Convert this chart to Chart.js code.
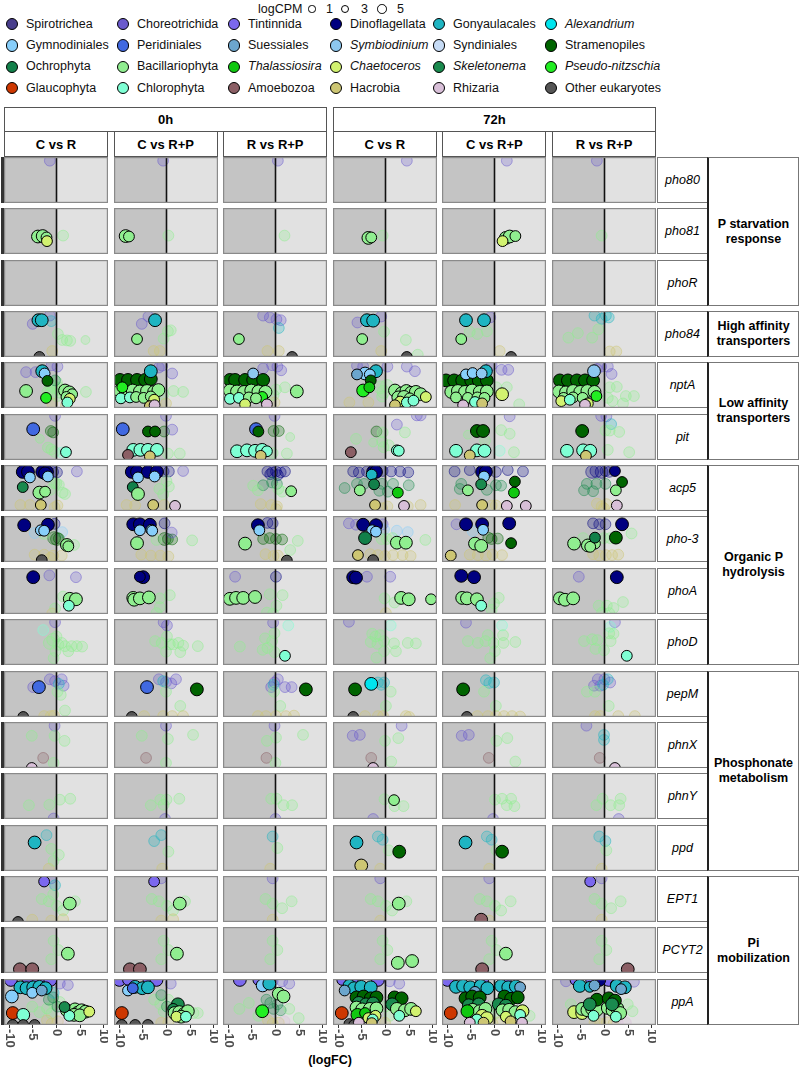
<!DOCTYPE html>
<html>
<head>
<meta charset="utf-8">
<script src="https://cdn.jsdelivr.net/npm/chart.js@4.4.1/dist/chart.umd.min.js"></script>
<style>
  body { margin: 0; background: #fff; font-family: "Liberation Sans", Arial, sans-serif; }
  #wrap { position: relative; width: 800px; height: 1070px; }
  .abs { position: absolute; }
  .leg { position: absolute; font-size: 12.5px; color: #111; white-space: nowrap; line-height: 14px; }
  .dot { position: absolute; border-radius: 50%; border: 1px solid #000; box-sizing: border-box; }
  .strip { position: absolute; background: #fff; border: 1px solid #555; box-sizing: border-box;
           font-weight: bold; font-size: 13px; display: flex; align-items: center; justify-content: center; }
  .gene { position: absolute; background: #fff; border: 1px solid #777; box-sizing: border-box;
          font-style: italic; font-size: 12.5px; display: flex; align-items: center; justify-content: center; }
  .group { position: absolute; background: #fff; border: 1px solid #777; border-left: 2px solid #222; box-sizing: border-box;
           font-weight: bold; font-size: 12.5px; text-align: center; display: flex; align-items: center; justify-content: center; line-height: 15px; }
  canvas { position: absolute; }
</style>
</head>
<body>
<div id="wrap"></div>
<script>
// taxa shown in the legend (row by row)
const taxa = ['Spirotrichea', 'Choreotrichida', 'Tintinnida', 'Dinoflagellata', 'Gonyaulacales', 'Alexandrium',
  'Gymnodiniales', 'Peridiniales', 'Suessiales', 'Symbiodinium', 'Syndiniales', 'Stramenopiles',
  'Ochrophyta', 'Bacillariophyta', 'Thalassiosira', 'Chaetoceros', 'Skeletonema', 'Pseudo-nitzschia',
  'Glaucophyta', 'Chlorophyta', 'Amoebozoa', 'Hacrobia', 'Rhizaria', 'Other eukaryotes'];
const taxonKeys = ['Spi', 'Cho', 'Tin', 'Din', 'Gon', 'Ale', 'Gym', 'Per', 'Sue', 'Sym', 'Syn', 'Str',
  'Och', 'Bac', 'Tha', 'Cha', 'Ske', 'Pse', 'Gla', 'Chl', 'Amo', 'Hac', 'Rhi', 'Oth'];
const taxonColors = ['#483D8B', '#6A5ACD', '#7B68EE', '#000080', '#1FB5C2', '#00E5EE',
  '#87CEFA', '#4169E1', '#6CA6CD', '#8DC8F0', '#C6DBF5', '#006400',
  '#12804A', '#90EE90', '#10C810', '#D2F270', '#1A8A4E', '#22EE22',
  '#CD3700', '#7FFFD4', '#8B5F65', '#CDC673', '#D8BFD8', '#555555'];
const italicTaxa = ['Alexandrium', 'Symbiodinium', 'Thalassiosira', 'Chaetoceros', 'Skeletonema', 'Pseudo-nitzschia'];

const timepoints = ['0h', '72h'];
const contrasts = ['C vs R', 'C vs R+P', 'R vs R+P'];
const genes = ['pho80', 'pho81', 'phoR', 'pho84', 'nptA', 'pit', 'acp5', 'pho-3', 'phoA', 'phoD',
  'pepM', 'phnX', 'phnY', 'ppd', 'EPT1', 'PCYT2', 'ppA'];
const groupLabels = ['P starvation<br>response', 'High affinity<br>transporters', 'Low affinity<br>transporters',
  'Organic P<br>hydrolysis', 'Phosphonate<br>metabolism', 'Pi<br>mobilization'];
const groupSizes = [3, 1, 2, 4, 4, 3];
const xTicks = [-10, -5, 0, 5, 10];
const cpmLevels = [1, 3, 5];

// points: [logFC, y position (0-10), taxon, logCPM, significant]
// each gene: 6 panels = 0h (C vs R, C vs R+P, R vs R+P), 72h (same)
const pho80Pts = [
  [[-1.3, 9.2, 'Cho', 3, 0]],
  [[-0.6, 9.2, 'Cho', 3, 0]],
  [[0.6, 9.2, 'Cho', 3, 0]],
  [[4.6, 9.2, 'Cho', 3, 0]],
  [[2.7, 9.2, 'Cho', 3, 0]],
  [[-1.5, 9.2, 'Cho', 3, 0]]
];
const pho81Pts = [
  [[-3.8, 3.8, 'Bac', 4, 1], [-2.8, 3.9, 'Bac', 4, 1], [-2.0, 3.6, 'Bac', 3, 1], [-1.9, 2.8, 'Cha', 3, 1], [1.5, 4, 'Bac', 3, 0]],
  [[-8.5, 3.9, 'Bac', 4, 1], [-7.8, 3.8, 'Bac', 3, 1], [0.5, 4, 'Bac', 3, 0]],
  [[2, 4, 'Bac', 3, 0]],
  [[-3.5, 3.5, 'Bac', 4, 1], [-2.9, 3.6, 'Bac', 3, 1], [-0.5, 4, 'Bac', 3, 0]],
  [[2.5, 3.5, 'Bac', 4, 1], [3.3, 3.8, 'Bac', 4, 1], [4.5, 3.9, 'Bac', 3, 1], [1.8, 2.8, 'Cha', 3, 1]],
  [[-0.5, 4, 'Bac', 3, 0]]
];
const phoRPts = [[], [], [], [], [], []];
const pho84Pts = [
  [[-3.7, 8, 'Gon', 4, 1], [-3.0, 8, 'Gon', 4, 1], [-3.5, 0, 'Oth', 3, 1], [-4.9, 7.2, 'Cho', 3, 0], [-1.3, 9, 'Cho', 3, 0],
   [0.4, 5, 'Bac', 3, 0], [1.3, 3.7, 'Bac', 3, 0], [2.3, 3.6, 'Bac', 3, 0], [3.0, 3.5, 'Bac', 3, 0], [6.2, 3.7, 'Bac', 2, 0],
   [-0.8, 1.3, 'Hac', 3, 0], [-1, 7.8, 'Gon', 3, 0]],
  [[-2.3, 8, 'Gon', 4, 1], [-6.1, 3.9, 'Bac', 3, 1], [-5.1, 7.2, 'Cho', 3, 0], [-3.7, 8.8, 'Cho', 3, 0], [0.4, 5.6, 'Bac', 3, 0],
   [1, 5.8, 'Bac', 3, 0], [-0.5, 4, 'Bac', 3, 0], [-2.6, 1.3, 'Hac', 3, 0], [-1.3, 1.3, 'Hac', 3, 0]],
  [[-7.6, 3.9, 'Bac', 3, 1], [3.6, 0, 'Oth', 3, 1], [-2.5, 9, 'Cho', 3, 0], [-1.1, 8.6, 'Cho', 3, 0], [0.3, 8.2, 'Cho', 3, 0],
   [1.2, 8, 'Cho', 3, 0], [0.8, 6.3, 'Gon', 3, 0], [-1.6, 1.3, 'Hac', 3, 0], [0.8, 1.3, 'Hac', 3, 0]],
  [[-3.8, 8, 'Gon', 4, 1], [-2.5, 7.9, 'Gon', 4, 1], [-4.8, 3.9, 'Bac', 3, 1], [4.6, 0, 'Oth', 3, 1], [-5.8, 7.5, 'Cho', 3, 0],
   [-0.8, 8.8, 'Cho', 3, 0], [-0.2, 5.5, 'Bac', 3, 0], [4.4, 3.7, 'Bac', 3, 0], [-0.8, 1.3, 'Hac', 3, 0], [6.9, 0.5, 'Bac', 3, 0]],
  [[-5.9, 8, 'Gon', 4, 1], [-2.1, 8, 'Gon', 4, 1], [-6.9, 3.9, 'Bac', 3, 1], [3.6, 0, 'Oth', 3, 1], [-5.1, 5.5, 'Bac', 3, 0],
   [-3.5, 5, 'Bac', 3, 0], [-1.5, 5.6, 'Bac', 3, 0], [-0.8, 8.6, 'Cho', 3, 0], [1.2, 1.3, 'Hac', 3, 0]],
  [[-2.0, 9, 'Gon', 3, 0], [0.4, 9, 'Gon', 3, 0], [1, 8.6, 'Gon', 3, 0], [-0.5, 8.3, 'Gon', 3, 0], [-1.2, 6, 'Bac', 3, 0],
   [-7.5, 4.2, 'Bac', 3, 0], [-5.5, 5.2, 'Bac', 3, 0], [-2.5, 4.2, 'Bac', 3, 0], [2.6, 1.2, 'Hac', 3, 0], [1.2, 1.2, 'Hac', 3, 0]]
];
const nptAPts = [
  [[-2.9, 8, 'Gon', 4, 1], [-2.4, 7.5, 'Gym', 3, 1], [-1.8, 5.9, 'Str', 3, 1], [-6.3, 3.7, 'Bac', 4, 1], [-2.1, 2.2, 'Pse', 3, 1],
   [1.9, 3.8, 'Bac', 4, 1], [2.8, 3.4, 'Bac', 4, 1], [3.4, 3, 'Bac', 3, 1], [2.2, 2.4, 'Bac', 3, 1], [2.9, 2.0, 'Cha', 3, 1], [2.4, 1.2, 'Chl', 3, 1],
   [-0.9, 9.3, 'Cho', 3, 0], [0.3, 9, 'Cho', 3, 0], [-4.3, 7.8, 'Cho', 3, 0], [-6.3, 7.8, 'Cho', 3, 0], [-1.2, 5, 'Bac', 4, 0],
   [-0.5, 4.6, 'Bac', 4, 0], [0, 5.5, 'Bac', 4, 0], [0.6, 4.2, 'Bac', 4, 0], [-1, 3.2, 'Bac', 4, 0], [0.2, 2.8, 'Bac', 4, 0],
   [1, 3.5, 'Bac', 4, 0], [-1.8, 3.5, 'Bac', 3, 0], [6.3, 3.5, 'Bac', 3, 0], [2.1, 0.6, 'Hac', 3, 0], [-0.8, 1, 'Hac', 3, 0], [-0.2, 6, 'Ske', 3, 0]],
  [[-9.7, 6.1, 'Str', 4, 1], [-8, 6.1, 'Str', 4, 1], [-6.1, 6.1, 'Str', 4, 1], [-4.4, 6.1, 'Str', 4, 1], [-3.2, 6.3, 'Str', 4, 1],
   [-3.2, 8, 'Gon', 4, 1], [-9.7, 3.7, 'Bac', 4, 1], [-8.4, 3.5, 'Bac', 4, 1], [-7, 3.8, 'Bac', 4, 1], [-5.5, 3.6, 'Bac', 4, 1],
   [-4, 3.7, 'Bac', 4, 1], [-2.5, 3.5, 'Bac', 4, 1], [-1.6, 3.9, 'Bac', 4, 1], [-9.2, 4.5, 'Pse', 3, 1], [-9.5, 2.1, 'Chl', 3, 1],
   [-7.6, 2.3, 'Chl', 3, 1], [-6.3, 2.4, 'Bac', 3, 1], [-4.7, 2.2, 'Bac', 3, 1], [-3.2, 2.5, 'Bac', 3, 1], [-2.5, 1.8, 'Cha', 3, 1],
   [-3.4, 0.4, 'Hac', 3, 1], [-2.4, 0.6, 'Rhi', 3, 1],
   [-0.8, 9.2, 'Cho', 3, 0], [1.3, 7.5, 'Cho', 3, 0], [-1.5, 8.8, 'Cho', 3, 0], [1.6, 3.7, 'Bac', 3, 0], [3.6, 3.5, 'Bac', 3, 0],
   [-0.5, 3, 'Bac', 3, 0], [0, 1, 'Hac', 3, 0]],
  [[-9.5, 6.1, 'Str', 4, 1], [-8.4, 6.1, 'Str', 4, 1], [-6.3, 6.1, 'Str', 4, 1], [-4.6, 6.1, 'Str', 4, 1], [-2.5, 6.1, 'Str', 4, 1],
   [-4.6, 7.5, 'Sym', 3, 1], [-9.5, 3.8, 'Bac', 4, 1], [-8, 3.6, 'Bac', 4, 1], [-6.5, 3.5, 'Bac', 4, 1], [-5, 3.8, 'Bac', 4, 1],
   [-3.5, 3.6, 'Bac', 4, 1], [-2, 3.5, 'Bac', 4, 1], [-9.5, 2, 'Chl', 3, 1], [-7.6, 2.2, 'Chl', 3, 1], [-2.7, 2.4, 'Pse', 3, 1],
   [-5.5, 2.3, 'Bac', 3, 1], [-4, 2.1, 'Bac', 3, 1], [-6.3, 0.8, 'Cha', 3, 1], [-1.7, 0.8, 'Rhi', 3, 1], [4.6, 3.6, 'Bac', 4, 1],
   [-0.6, 9.3, 'Cho', 3, 0], [0.5, 9, 'Cho', 3, 0], [-2.5, 8.6, 'Cho', 3, 0], [1.3, 8.2, 'Cho', 3, 0], [0.2, 4, 'Bac', 3, 0],
   [-0.3, 2.8, 'Bac', 3, 0], [2.1, 4.5, 'Bac', 3, 0], [-0.1, 1.2, 'Hac', 3, 0]],
  [[-1.9, 8, 'Gon', 4, 1], [-4.2, 7.5, 'Gym', 4, 1], [-3.2, 7.3, 'Gym', 3, 1], [-5.9, 7.3, 'Sue', 3, 1], [-3.0, 6, 'Str', 3, 1],
   [-4.6, 3.8, 'Pse', 4, 1], [-3.3, 4.5, 'Tha', 3, 1], [2.1, 3.8, 'Bac', 4, 1], [3.5, 3.2, 'Bac', 4, 1], [4.5, 3.7, 'Bac', 4, 1],
   [5.5, 3.3, 'Bac', 4, 1], [6.5, 3.5, 'Bac', 4, 1], [7.5, 3, 'Bac', 4, 1], [2.8, 2.3, 'Bac', 4, 1], [4, 2.4, 'Bac', 4, 1],
   [5.2, 2.1, 'Bac', 3, 1], [8.6, 2.4, 'Cha', 3, 1], [3.2, 1.4, 'Cha', 3, 1], [4.6, 1.2, 'Chl', 3, 1], [6, 1.6, 'Chl', 3, 1], [2.1, 0.6, 'Hac', 3, 1],
   [-5.9, 9.2, 'Cho', 3, 0], [-4.6, 9, 'Cho', 3, 0], [0.5, 9, 'Cho', 3, 0], [4.6, 9, 'Cho', 3, 0], [6.3, 8, 'Cho', 3, 0],
   [-1, 4.5, 'Bac', 4, 0], [-0.3, 3.5, 'Bac', 4, 0], [0.4, 4.8, 'Bac', 4, 0], [-0.6, 2.5, 'Bac', 3, 0], [-7.5, 1.2, 'Hac', 3, 0], [-3.5, 1.2, 'Hac', 3, 0]],
  [[-10.1, 6, 'Str', 4, 1], [-8.4, 6, 'Str', 4, 1], [-6.7, 6, 'Str', 4, 1], [-4.8, 6, 'Str', 4, 1], [-3.2, 6, 'Str', 4, 1], [-1.5, 6, 'Str', 4, 1],
   [-1.7, 8, 'Gon', 4, 1], [-5.9, 7.3, 'Gym', 3, 1], [-4.5, 7.6, 'Gym', 3, 1], [-2.6, 7.5, 'Sym', 3, 1], [-9, 3.5, 'Bac', 4, 1],
   [-7.6, 3.7, 'Bac', 4, 1], [-6.1, 3.5, 'Bac', 4, 1], [-4.6, 3.8, 'Bac', 4, 1], [-3, 3.5, 'Bac', 4, 1], [-1.5, 3.6, 'Bac', 4, 1],
   [-8, 2.3, 'Bac', 3, 1], [-5.5, 2.2, 'Bac', 3, 1], [-3.5, 2.3, 'Bac', 3, 1], [-2, 2.2, 'Bac', 3, 1], [1.7, 3, 'Cha', 4, 1],
   [-6.5, 0.6, 'Rhi', 3, 1], [-4, 1.3, 'Chl', 3, 1], [-2.5, 1, 'Hac', 3, 1],
   [-0.5, 9.3, 'Cho', 3, 0], [1.6, 8.3, 'Cho', 3, 0], [3, 8.3, 'Cho', 3, 0], [0.5, 4.5, 'Bac', 3, 0], [2.7, 4.5, 'Bac', 3, 0], [5.3, 0.8, 'Bac', 3, 0]],
  [[-9.3, 6, 'Str', 4, 1], [-7.6, 6, 'Str', 4, 1], [-5.7, 6, 'Str', 4, 1], [-4, 6, 'Str', 4, 1], [-2.3, 6, 'Str', 4, 1], [-2.1, 8, 'Sym', 4, 1],
   [-9.5, 3.6, 'Bac', 4, 1], [-8, 3.4, 'Bac', 4, 1], [-6.5, 3.7, 'Bac', 4, 1], [-5, 3.5, 'Bac', 4, 1], [-3.5, 3.7, 'Bac', 4, 1],
   [-2, 3.5, 'Bac', 4, 1], [-8.5, 2.2, 'Bac', 3, 1], [-6.5, 2.3, 'Bac', 3, 1], [-4.5, 2.2, 'Bac', 3, 1], [-9, 1.5, 'Cha', 3, 1],
   [-3.4, 1, 'Cha', 3, 1], [-4, 0.7, 'Rhi', 3, 1], [-1.6, 2.6, 'Pse', 3, 1], [-7.2, 1.8, 'Chl', 3, 1],
   [-0.6, 9, 'Cho', 3, 0], [0.8, 9, 'Cho', 3, 0], [-1.5, 8.5, 'Cho', 3, 0], [1.6, 7.4, 'Cho', 3, 0], [1.2, 4.5, 'Bac', 3, 0],
   [2.7, 4.6, 'Bac', 3, 0], [4.6, 2.6, 'Bac', 3, 0], [6.3, 2.6, 'Bac', 3, 0], [0.8, 2.2, 'Bac', 3, 0], [1.8, 1.5, 'Bac', 3, 0], [4, 1, 'Bac', 3, 0]]
];
const pitPts = [
  [[-4.8, 6.7, 'Per', 4, 1], [2.1, 1.7, 'Chl', 3, 1], [-0.2, 9.6, 'Cho', 3, 0], [-1.1, 6.3, 'Str', 3, 0], [-0.6, 6, 'Str', 3, 0],
   [-1.7, 2.7, 'Bac', 3, 0], [-1, 2.3, 'Bac', 3, 0], [-0.3, 1.8, 'Bac', 3, 0], [-3.4, 4.6, 'Bac', 2, 0], [1.2, 1.6, 'Chl', 3, 0]],
  [[-9.1, 6.7, 'Per', 4, 1], [-3.8, 6.2, 'Str', 3, 1], [-2.3, 6.2, 'Str', 3, 1], [-6.9, 2.2, 'Chl', 4, 1], [-5.4, 2.2, 'Chl', 4, 1],
   [-3.8, 2.2, 'Chl', 4, 1], [-1.9, 2.2, 'Chl', 4, 1], [-8, 1.1, 'Amo', 3, 1], [-3.4, 0.8, 'Hac', 3, 1],
   [0, 9.6, 'Cho', 3, 0], [-0.4, 6.2, 'Str', 3, 0], [1.3, 6.6, 'Cho', 3, 0], [2.9, 1.4, 'Bac', 3, 0], [0.4, 1.4, 'Bac', 3, 0]],
  [[-4, 6.7, 'Per', 4, 1], [-3.5, 6.2, 'Str', 3, 1], [-8, 1.9, 'Chl', 4, 1], [-5.9, 2.1, 'Chl', 4, 1], [-4.2, 2, 'Chl', 4, 1],
   [-2.7, 2.2, 'Chl', 4, 1], [-1.7, 1.9, 'Chl', 3, 1], [-3, 0.9, 'Hac', 3, 1],
   [-0.1, 9.6, 'Cho', 3, 0], [-0.3, 6.3, 'Str', 3, 0], [0.8, 6.3, 'Str', 3, 0], [3.2, 5, 'Bac', 2, 0], [2.5, 1.4, 'Bac', 3, 0], [-0.5, 1.5, 'Bac', 3, 0]],
  [[-7.2, 1.7, 'Amo', 3, 1], [2.5, 2.1, 'Chl', 3, 1], [2.9, 2.0, 'Chl', 3, 1],
   [6.7, 9.7, 'Cho', 3, 0], [7.5, 9.7, 'Cho', 3, 0], [-1.8, 6.2, 'Str', 3, 0], [2.5, 7.7, 'Cho', 3, 0], [-0.5, 6, 'Bac', 3, 0],
   [-0.6, 4, 'Bac', 3, 0], [-6.1, 4.6, 'Bac', 3, 0], [-2.5, 3.8, 'Bac', 2, 0], [-0.3, 2.8, 'Bac', 3, 0], [0.8, 3.2, 'Bac', 3, 0], [4.2, 6, 'Bac', 3, 0]],
  [[-3.6, 6.3, 'Str', 4, 1], [-2.3, 6.3, 'Str', 4, 1], [-8, 2, 'Chl', 4, 1], [-3.6, 2.1, 'Chl', 4, 1], [-2, 2, 'Chl', 4, 1], [-5.1, 1, 'Hac', 3, 1],
   [3.3, 9.5, 'Cho', 3, 0], [1.2, 2, 'Chl', 3, 0], [1.5, 6.5, 'Bac', 3, 0], [3.3, 5.7, 'Bac', 3, 0], [-1.9, 4.2, 'Bac', 3, 0],
   [-5.5, 5.5, 'Bac', 2, 0], [4.2, 1.7, 'Bac', 3, 0]],
  [[-4.6, 6.3, 'Str', 4, 1], [-7.8, 2, 'Chl', 4, 1], [-4.4, 2.1, 'Chl', 4, 1], [-2.9, 2, 'Chl', 4, 1], [-3.8, 0.9, 'Hac', 3, 1],
   [-0.6, 9.6, 'Cho', 3, 0], [0.5, 9.5, 'Cho', 3, 0], [1.5, 7.8, 'Gon', 3, 0], [0.3, 6.4, 'Bac', 3, 0], [1.2, 6.4, 'Bac', 3, 0],
   [3.2, 6.1, 'Bac', 3, 0], [0.8, 2.2, 'Bac', 3, 0], [5.3, 1.7, 'Bac', 3, 0]]
];
const acp5Pts = [
  [[-7, 8.5, 'Din', 4, 1], [-5.9, 8.5, 'Din', 4, 1], [-2.9, 8.5, 'Din', 4, 1], [-1.9, 8.5, 'Din', 4, 1], [-2.3, 8.2, 'Din', 4, 1],
   [-5.5, 7.3, 'Gym', 3, 1], [-1.7, 7.5, 'Gym', 3, 1], [-7, 5.2, 'Ske', 3, 1], [-3.5, 4, 'Bac', 4, 1], [-2.3, 4.2, 'Bac', 3, 1], [-3.2, 1.3, 'Hac', 3, 1],
   [-0.6, 8.5, 'Din', 3, 0], [0.2, 8.4, 'Din', 3, 0], [4.4, 8.6, 'Cho', 3, 0], [-0.3, 6, 'Bac', 3, 0], [0.1, 6, 'Bac', 3, 0],
   [0.6, 5.7, 'Bac', 3, 0], [1.4, 4, 'Bac', 3, 0], [1.9, 3.7, 'Bac', 3, 0], [-1.2, 4.6, 'Bac', 3, 0], [-7.5, 1.3, 'Hac', 3, 0],
   [-5.5, 1.3, 'Hac', 3, 0], [-0.3, 0.8, 'Hac', 3, 0], [0.3, 1.2, 'Hac', 3, 0], [-2.5, 9.2, 'Cho', 3, 0]],
  [[-7.2, 8.5, 'Din', 4, 1], [-6.1, 8.5, 'Din', 4, 1], [-3.8, 8.5, 'Din', 4, 1], [-1.9, 8.5, 'Din', 4, 1], [-5.9, 7.3, 'Gym', 3, 1],
   [-2.4, 7.5, 'Gym', 3, 1], [-7, 5.2, 'Och', 3, 1], [-5.9, 3.7, 'Bac', 4, 1], [-2.7, 1.3, 'Hac', 3, 1], [1.9, 1.1, 'Rhi', 3, 1],
   [3.6, 8.7, 'Cho', 3, 0], [-0.5, 8.6, 'Din', 3, 0], [0.6, 8.6, 'Din', 3, 0], [0.1, 6.5, 'Bac', 3, 0], [0.6, 5.3, 'Bac', 3, 0],
   [-1.4, 4.8, 'Bac', 3, 0], [-0.6, 3.6, 'Bac', 3, 0], [-8.3, 1.3, 'Hac', 3, 0], [-6.5, 1.2, 'Hac', 3, 0], [-0.4, 1.3, 'Hac', 3, 0]],
  [[3.4, 4.3, 'Bac', 3, 1],
   [-1.6, 8.6, 'Din', 3, 0], [-0.6, 8.4, 'Din', 3, 0], [0.2, 8.6, 'Din', 3, 0], [1.2, 8.4, 'Din', 3, 0], [2.1, 8.6, 'Din', 3, 0],
   [-1, 8, 'Din', 3, 0], [0.6, 7.8, 'Din', 3, 0], [-2.5, 5.6, 'Ske', 3, 0], [-0.6, 6.2, 'Ske', 3, 0], [0.4, 5.9, 'Ske', 3, 0],
   [-4.6, 5.5, 'Bac', 3, 0], [0.7, 4.8, 'Bac', 3, 0], [1.5, 4.2, 'Bac', 3, 0], [-3.6, 4.5, 'Bac', 3, 0], [-3, 1.5, 'Hac', 3, 0],
   [-0.8, 1.3, 'Hac', 3, 0], [0.4, 1, 'Hac', 3, 0], [0.2, 0.4, 'Hac', 3, 0]],
  [[-2.5, 8.5, 'Din', 4, 1], [-1.9, 8.5, 'Din', 4, 1], [-2.8, 7.9, 'Gon', 3, 1], [-2.3, 5.8, 'Och', 3, 1], [-5.3, 4.5, 'Bac', 3, 1],
   [2.7, 4, 'Tha', 3, 1], [-2.1, 1.3, 'Hac', 3, 1], [4, 1.1, 'Rhi', 3, 1],
   [-6.7, 8.6, 'Din', 3, 0], [-5.5, 8.4, 'Din', 3, 0], [-3.8, 8.6, 'Din', 3, 0], [-0.5, 8.7, 'Din', 3, 0], [1.3, 8.6, 'Din', 3, 0],
   [3.2, 8.6, 'Din', 3, 0], [4.9, 8.4, 'Din', 3, 0], [-5.9, 5.9, 'Ske', 3, 0], [-4.4, 5.9, 'Ske', 3, 0], [-0.6, 5.9, 'Ske', 3, 0],
   [1.7, 5.9, 'Ske', 3, 0], [5, 5.6, 'Ske', 3, 0], [-8.5, 5, 'Ske', 3, 0], [-1.2, 4.4, 'Ske', 3, 0], [0.6, 4.2, 'Ske', 3, 0],
   [7.5, 1.3, 'Hac', 3, 0], [4.8, 1, 'Hac', 3, 0], [0.5, 1, 'Hac', 3, 0], [-0.6, 0.6, 'Hac', 3, 0]],
  [[-2.5, 8.5, 'Din', 4, 1], [-1.7, 8.5, 'Din', 4, 1], [-2.1, 7.5, 'Gym', 3, 1], [-2.7, 5.8, 'Ske', 3, 1], [4.4, 6.4, 'Str', 3, 1],
   [-5.5, 4.5, 'Bac', 3, 1], [4.2, 4, 'Tha', 3, 1], [-2.5, 1.3, 'Hac', 3, 1], [2.7, 1.1, 'Rhi', 3, 1], [6.7, 1.1, 'Rhi', 3, 1],
   [-8.3, 8.6, 'Din', 3, 0], [-5.1, 8.9, 'Din', 3, 0], [0.4, 8.5, 'Din', 3, 0], [2.9, 8.9, 'Din', 3, 0], [6.1, 8.6, 'Din', 3, 0],
   [-6.9, 5.9, 'Ske', 3, 0], [0.4, 5.6, 'Ske', 3, 0], [1.5, 5.5, 'Ske', 3, 0], [-7.2, 4.8, 'Ske', 3, 0], [-1.5, 4.6, 'Ske', 3, 0],
   [-8.2, 1.3, 'Hac', 3, 0], [0.4, 1.2, 'Hac', 3, 0], [-0.5, 1.2, 'Hac', 3, 0]],
  [[2.3, 8.7, 'Din', 3, 1], [3.8, 6.3, 'Str', 3, 1], [2.5, 4.5, 'Bac', 3, 1], [2.7, 1.2, 'Rhi', 3, 1],
   [-2.5, 8.5, 'Din', 4, 0], [-1.6, 8.7, 'Din', 4, 0], [-0.5, 8.5, 'Din', 4, 0], [0.3, 8.7, 'Din', 3, 0], [1.1, 8.5, 'Din', 3, 0],
   [-3.6, 5.9, 'Ske', 3, 0], [-1.6, 5.9, 'Ske', 3, 0], [0.3, 5.9, 'Ske', 3, 0], [-4.2, 4.5, 'Ske', 3, 0], [-2.3, 4.3, 'Ske', 3, 0],
   [-1.5, 1.6, 'Hac', 3, 0], [-0.5, 1, 'Hac', 3, 0], [0.5, 1.5, 'Hac', 3, 0], [0, 0.6, 'Hac', 3, 0]]
];
const pho3Pts = [
  [[-6.7, 8, 'Din', 4, 1], [-1.7, 8.1, 'Din', 4, 1], [-3.2, 6.9, 'Gym', 3, 1], [-2.5, 6.8, 'Gym', 3, 1], [2.3, 3.7, 'Bac', 4, 1],
   [2.6, 3.4, 'Bac', 3, 1], [-3, 0.4, 'Oth', 3, 1],
   [-0.3, 8.3, 'Din', 3, 0], [-4.5, 6.3, 'Gym', 3, 0], [1.3, 6.5, 'Gym', 3, 0], [-0.4, 5.2, 'Str', 4, 0], [0.2, 5, 'Str', 4, 0],
   [0.6, 5.1, 'Str', 3, 0], [3.8, 3.7, 'Bac', 3, 0], [-2.5, 6.1, 'Bac', 3, 0], [-4.5, 1.6, 'Hac', 3, 0], [-2.5, 1.6, 'Hac', 3, 0],
   [-0.6, 1.4, 'Hac', 3, 0], [1.2, 1.4, 'Hac', 3, 0], [-1.2, 0.9, 'Hac', 3, 0]],
  [[-6.9, 8.2, 'Din', 4, 1], [-5.5, 8.2, 'Din', 4, 1], [-3.4, 8.1, 'Din', 4, 1], [-5.5, 6.9, 'Gym', 3, 1], [-3.1, 7, 'Gym', 3, 1],
   [-2.9, 6.8, 'Gym', 3, 1], [-6.1, 4.1, 'Bac', 4, 1],
   [-0.3, 8.4, 'Din', 3, 0], [-0.3, 5, 'Str', 4, 0], [0.4, 5, 'Str', 3, 0], [1.3, 4.9, 'Str', 3, 0], [5.5, 4.7, 'Bac', 3, 0],
   [-2, 4.8, 'Bac', 3, 0], [-5.2, 1.6, 'Hac', 3, 0], [-3.2, 1.4, 'Hac', 3, 0], [-1.2, 1.4, 'Hac', 3, 0], [0.5, 1.2, 'Hac', 3, 0], [1.2, 6.4, 'Cho', 3, 0]],
  [[-3.6, 8, 'Din', 4, 1], [-3.3, 6.9, 'Gym', 3, 1], [-6.3, 4, 'Bac', 4, 1], [2.5, 0.3, 'Oth', 3, 1],
   [-0.5, 8.4, 'Din', 3, 0], [-1.6, 8.5, 'Din', 3, 0], [-2.5, 5, 'Str', 3, 0], [-1.1, 5.2, 'Str', 3, 0], [0.2, 5, 'Str', 3, 0],
   [1.5, 4.9, 'Str', 3, 0], [4.8, 4.6, 'Bac', 3, 0], [3.2, 2.6, 'Bac', 3, 0], [-2, 1.7, 'Hac', 3, 0], [-0.3, 1.3, 'Hac', 3, 0], [0.6, 1.4, 'Hac', 3, 0]],
  [[-4.6, 8.1, 'Din', 4, 1], [-1.9, 8, 'Din', 4, 1], [-2.7, 6.9, 'Gym', 3, 1], [-1.9, 6.6, 'Gym', 3, 1], [-4.2, 5.2, 'Och', 4, 1],
   [2.5, 4.2, 'Bac', 4, 1], [4.4, 4.2, 'Bac', 4, 1], [-5.7, 1.5, 'Hac', 3, 1], [-2.5, 0.4, 'Oth', 3, 1],
   [-7.6, 8.4, 'Cho', 3, 0], [-6.1, 8.1, 'Cho', 3, 0], [-0.5, 8.2, 'Cho', 3, 0], [-0.2, 7.1, 'Gym', 3, 0], [2.5, 6.8, 'Gym', 3, 0],
   [4.8, 6.5, 'Gym', 3, 0], [-0.7, 5, 'Bac', 3, 0], [0.4, 5, 'Bac', 3, 0], [1.6, 5.2, 'Bac', 3, 0], [8.5, 4.8, 'Bac', 3, 0],
   [-3.1, 1.7, 'Hac', 3, 0], [-1.5, 1.5, 'Hac', 3, 0], [0, 1.3, 'Hac', 3, 0], [1.7, 1.5, 'Hac', 3, 0], [3.7, 1.5, 'Hac', 3, 0], [5.4, 1.3, 'Hac', 3, 0]],
  [[-5.9, 8.2, 'Din', 4, 1], [-2.5, 8.2, 'Din', 4, 1], [3.2, 8.4, 'Din', 4, 1], [-2.3, 7, 'Gym', 3, 1], [-4, 4, 'Bac', 4, 1],
   [-2.7, 3.5, 'Bac', 4, 1], [3.6, 4.1, 'Str', 3, 1], [-9.1, 1.4, 'Hac', 3, 1],
   [-7.9, 8.2, 'Cho', 3, 0], [-4.5, 6.7, 'Gym', 3, 0], [-1.2, 5.3, 'Str', 3, 0], [-0.5, 5, 'Str', 3, 0], [0.8, 5.1, 'Str', 3, 0],
   [-5.1, 1.6, 'Hac', 3, 0], [-3.4, 1.5, 'Hac', 3, 0], [-1.7, 1.4, 'Hac', 3, 0], [-0.3, 1.6, 'Hac', 3, 0], [1.7, 1.5, 'Hac', 3, 0]],
  [[3.8, 8.2, 'Din', 4, 1], [-6.3, 4, 'Bac', 4, 1], [-3.4, 3.6, 'Bac', 4, 1], [-1.9, 4, 'Bac', 3, 1], [-2.9, 3.3, 'Bac', 3, 1],
   [2.5, 5.3, 'Str', 4, 1], [-1.9, 5.3, 'Och', 3, 1],
   [-2.3, 8.4, 'Din', 3, 0], [-1, 8.2, 'Din', 3, 0], [0.3, 8.2, 'Din', 3, 0], [5.8, 6.2, 'Bac', 3, 0], [-4.4, 5.2, 'Bac', 3, 0],
   [0, 5.2, 'Bac', 3, 0], [1.3, 5.2, 'Bac', 3, 0], [-2.3, 1.7, 'Hac', 3, 0], [-1, 1.4, 'Hac', 3, 0], [0.4, 1.5, 'Hac', 3, 0],
   [1.7, 1.5, 'Hac', 3, 0], [3, 1.6, 'Hac', 3, 0]]
];
const phoAPts = [
  [[-4.8, 8, 'Din', 4, 1], [2.9, 3.3, 'Bac', 4, 1], [4.2, 3.2, 'Bac', 4, 1], [2.7, 1.8, 'Chl', 3, 1],
   [4.2, 8, 'Cho', 3, 0], [-1.4, 8.4, 'Cho', 3, 0], [1.5, 3.8, 'Bac', 3, 0], [-0.2, 1.2, 'Bac', 3, 0], [-0.8, 0.1, 'Hac', 3, 0]],
  [[-4.8, 8, 'Din', 4, 1], [-5.5, 8.1, 'Din', 3, 1], [-6.9, 3.5, 'Bac', 4, 1], [-6.7, 3.1, 'Bac', 4, 1], [-5.5, 3.4, 'Bac', 4, 1],
   [-3.6, 3.6, 'Bac', 4, 1], [-1.3, 3.4, 'Bac', 3, 0], [0.8, 4.1, 'Bac', 3, 0], [-1.3, 1.5, 'Bac', 3, 0], [-2, 0.2, 'Bac', 3, 0]],
  [[-9.5, 3.3, 'Bac', 4, 1], [-8.2, 3.5, 'Bac', 4, 1], [-6.7, 3.5, 'Bac', 4, 1], [-4.2, 3.7, 'Bac', 4, 1],
   [-8.4, 8.1, 'Cho', 3, 0], [0.2, 8.1, 'Din', 3, 0], [-1.1, 4.3, 'Bac', 3, 0], [1.6, 4.1, 'Bac', 3, 0], [0.3, 1.8, 'Bac', 3, 0],
   [-1.7, 0.3, 'Bac', 3, 0], [-0.4, 0.1, 'Bac', 3, 0]],
  [[-6.7, 8, 'Din', 4, 1], [-6.1, 7.9, 'Din', 4, 1], [3.4, 3.5, 'Bac', 4, 1], [5, 3.2, 'Bac', 4, 1], [9.7, 3.2, 'Bac', 3, 1],
   [-3.8, 8.1, 'Cho', 3, 0], [1.1, 8.1, 'Cho', 3, 0], [-0.1, 3.4, 'Bac', 3, 0], [2, 2.5, 'Bac', 3, 0], [0.2, 0.2, 'Hac', 3, 0]],
  [[-6.9, 8.3, 'Din', 4, 1], [-4.2, 8, 'Din', 4, 1], [-6.7, 3.5, 'Bac', 4, 1], [-5.7, 3.4, 'Bac', 4, 1], [-3.6, 3.2, 'Bac', 4, 1],
   [-2.7, 1.8, 'Chl', 3, 1], [1, 3.5, 'Bac', 3, 0], [0, 2.3, 'Bac', 3, 0], [-0.5, 0.9, 'Bac', 3, 0]],
  [[-9.3, 3.4, 'Bac', 4, 1], [-8.2, 3.1, 'Bac', 4, 1], [-6.5, 3.4, 'Bac', 4, 1], [2.7, 8, 'Din', 4, 1],
   [-5.3, 8.1, 'Cho', 3, 0], [-1.1, 1.8, 'Bac', 3, 0], [0.6, 1.8, 'Bac', 3, 0], [2, 1.3, 'Bac', 3, 0], [4, 2.6, 'Bac', 3, 0],
   [-0.4, 0.3, 'Bac', 3, 0], [1.1, 0.2, 'Bac', 3, 0]]
];
const phoDPts = [
  [[-2.7, 7.6, 'Chl', 3, 0], [-0.2, 9.3, 'Cho', 3, 0], [-1.3, 4.8, 'Bac', 4, 0], [-0.6, 5.5, 'Bac', 4, 0], [0.1, 6.2, 'Bac', 3, 0],
   [0.5, 4.4, 'Bac', 3, 0], [1.2, 4.8, 'Bac', 3, 0], [1.9, 4.1, 'Bac', 3, 0], [2.6, 3, 'Bac', 3, 0], [3.3, 4.1, 'Bac', 3, 0],
   [4.4, 4.1, 'Bac', 3, 0], [5.5, 4, 'Bac', 3, 0], [-0.1, 3, 'Bac', 3, 0], [-0.5, 1.5, 'Bac', 3, 0]],
  [[-0.5, 9.3, 'Cho', 3, 0], [0.2, 8.6, 'Cho', 3, 0], [-2.3, 5.2, 'Bac', 3, 0], [-0.9, 4.8, 'Bac', 3, 0], [0.2, 6.2, 'Bac', 3, 0],
   [0.8, 4.5, 'Bac', 3, 0], [1.5, 4.5, 'Bac', 3, 0], [2.6, 4.8, 'Bac', 3, 0], [3.6, 4.2, 'Bac', 3, 0], [3, 2.8, 'Bac', 3, 0],
   [6.7, 4.1, 'Bac', 3, 0], [0, 2.9, 'Bac', 3, 0]],
  [[2.1, 2, 'Chl', 3, 1], [-0.4, 9.2, 'Cho', 3, 0], [2.8, 8.6, 'Chl', 3, 0], [-0.1, 6.9, 'Bac', 3, 0], [-2.1, 5.8, 'Bac', 3, 0],
   [-0.6, 5.2, 'Bac', 3, 0], [-1.6, 3.7, 'Bac', 3, 0], [-2.6, 3.3, 'Bac', 3, 0], [-7.4, 4, 'Bac', 3, 0], [-0.1, 2.8, 'Bac', 3, 0]],
  [[-7.6, 9.4, 'Cho', 3, 0], [1.2, 8.6, 'Chl', 3, 0], [-2.7, 6.8, 'Bac', 3, 0], [-2, 6.2, 'Bac', 3, 0], [-1, 6.5, 'Bac', 3, 0],
   [-3, 5, 'Bac', 3, 0], [-1.6, 4.6, 'Bac', 3, 0], [-0.2, 5.2, 'Bac', 3, 0], [1.9, 4.7, 'Bac', 3, 0], [2.3, 3, 'Bac', 3, 0],
   [4.8, 4.8, 'Bac', 3, 0], [6.5, 4.7, 'Bac', 3, 0], [-0.2, 3, 'Bac', 3, 0], [-1.8, 1.6, 'Bac', 3, 0]],
  [[-5.9, 9.2, 'Cho', 3, 0], [1.7, 8.6, 'Chl', 3, 0], [-1.3, 6.5, 'Bac', 3, 0], [1.9, 6.5, 'Bac', 3, 0], [-5.5, 5.2, 'Bac', 3, 0],
   [-3.4, 4.8, 'Bac', 3, 0], [-1.8, 5.2, 'Bac', 3, 0], [-0.1, 4.8, 'Bac', 3, 0], [2, 4.8, 'Bac', 3, 0], [4.5, 5, 'Bac', 3, 0],
   [0.2, 3, 'Bac', 3, 0], [-0.8, 1.5, 'Bac', 3, 0]],
  [[4.8, 2, 'Chl', 3, 1], [2.3, 9.3, 'Cho', 3, 0], [1.3, 8.3, 'Chl', 3, 0], [2, 6.8, 'Bac', 3, 0], [-4.2, 5.2, 'Bac', 3, 0],
   [-2.5, 5.6, 'Bac', 3, 0], [-1.4, 5.4, 'Bac', 3, 0], [0, 3.2, 'Bac', 3, 0], [1.4, 5.2, 'Bac', 3, 0], [-1.8, 3.5, 'Bac', 3, 0], [1.1, 6.9, 'Bac', 3, 0]]
];
const pepMPts = [
  [[-3.6, 6.5, 'Per', 4, 1], [-6.9, 0, 'Oth', 3, 1], [-4.8, 6.5, 'Cho', 3, 0], [-1.3, 8.2, 'Cho', 3, 0], [-0.2, 7.8, 'Cho', 3, 0],
   [1.2, 8.2, 'Cho', 3, 0], [1.6, 6.8, 'Cho', 3, 0], [0.6, 7.2, 'Gon', 3, 0], [0.3, 5.5, 'Bac', 3, 0], [1, 4.8, 'Bac', 3, 0],
   [1.9, 1.4, 'Bac', 3, 0], [-2.5, 0.2, 'Hac', 3, 0], [-1.1, 0.2, 'Hac', 3, 0], [-0.4, 0.3, 'Hac', 3, 0]],
  [[-4, 6.5, 'Per', 4, 1], [6.5, 6, 'Str', 4, 1], [-7.2, 0, 'Oth', 3, 1], [-1.5, 8.2, 'Cho', 3, 0], [0, 7.6, 'Cho', 3, 0],
   [1.1, 7.3, 'Cho', 3, 0], [2.1, 8.2, 'Cho', 3, 0], [-0.6, 7.8, 'Gon', 3, 0], [0, 5.5, 'Bac', 3, 0], [3, 2.4, 'Bac', 3, 0],
   [-4.6, 0.2, 'Hac', 3, 0], [-0.6, 0.2, 'Hac', 3, 0], [1.3, 0.2, 'Hac', 3, 0], [3.6, 0.2, 'Hac', 3, 0]],
  [[6.5, 6, 'Str', 4, 1], [-0.8, 6.5, 'Cho', 3, 0], [-0.1, 7.5, 'Cho', 3, 0], [0.6, 8.2, 'Cho', 3, 0], [2.1, 6.5, 'Cho', 3, 0],
   [3.5, 6.5, 'Cho', 3, 0], [-0.3, 7, 'Gon', 3, 0], [-0.2, 5.5, 'Bac', 3, 0], [1.1, 2.4, 'Bac', 3, 0], [-3.6, 0.2, 'Hac', 3, 0],
   [-1.9, 0.2, 'Hac', 3, 0], [0.2, 0.2, 'Hac', 3, 0], [2.3, 0.2, 'Hac', 3, 0], [4, 0.3, 'Hac', 3, 0]],
  [[-6.3, 6, 'Str', 4, 1], [-2.9, 7.2, 'Ale', 4, 1], [-6.7, 0, 'Oth', 3, 1], [-1.5, 7.5, 'Gon', 3, 0], [-0.8, 7, 'Gon', 3, 0],
   [-0.2, 7.5, 'Gon', 3, 0], [1.2, 5.5, 'Bac', 3, 0], [0.2, 2.4, 'Bac', 3, 0], [-4.2, 0.2, 'Hac', 3, 0], [-1.5, 0.2, 'Hac', 3, 0],
   [-0.4, 0.2, 'Hac', 3, 0], [4.4, 0.2, 'Hac', 3, 0], [5.1, 0, 'Hac', 3, 0]],
  [[-6.5, 6, 'Str', 4, 1], [-5.7, 0, 'Oth', 3, 1], [-1.7, 8, 'Gon', 3, 0], [-1, 7.4, 'Gon', 3, 0], [0, 7.5, 'Gon', 3, 0],
   [-2.1, 5.5, 'Bac', 3, 0], [0.4, 2.4, 'Bac', 3, 0], [-3.5, 0.2, 'Hac', 3, 0], [-1.3, 0.2, 'Hac', 3, 0], [0.4, 0.2, 'Hac', 3, 0],
   [2.1, 0.2, 'Hac', 3, 0], [3.8, 0.2, 'Hac', 3, 0], [5.5, 0.1, 'Hac', 3, 0]],
  [[-1.3, 8.2, 'Cho', 3, 0], [0.1, 8.2, 'Cho', 3, 0], [-2.1, 6.8, 'Cho', 3, 0], [-0.8, 6.8, 'Cho', 3, 0], [1.3, 7.5, 'Cho', 3, 0],
   [0.8, 8.2, 'Gon', 3, 0], [-0.2, 7, 'Gon', 3, 0], [-3.6, 5.5, 'Bac', 3, 0], [-1.9, 5.5, 'Bac', 3, 0], [1, 2.4, 'Bac', 3, 0],
   [-1.9, 0.2, 'Hac', 3, 0], [-0.8, 0.2, 'Hac', 3, 0], [3, 0.2, 'Hac', 3, 0], [6.5, 0.2, 'Hac', 3, 0]]
];
const phnXPts = [
  [[-5.1, 0, 'Rhi', 3, 1], [-0.3, 9.2, 'Cho', 3, 0], [-5.1, 7, 'Bac', 3, 0], [-0.3, 7, 'Bac', 3, 0], [1.8, 5.9, 'Bac', 3, 0],
   [-2.7, 2.2, 'Amo', 3, 0], [-0.5, 1.1, 'Bac', 3, 0]],
  [[0, 9.2, 'Cho', 3, 0], [-5.1, 7, 'Bac', 3, 0], [0.4, 6.3, 'Bac', 3, 0], [5.7, 7.2, 'Bac', 3, 0], [-4.2, 2.2, 'Amo', 3, 0], [0, 1.1, 'Bac', 3, 0]],
  [[-0.1, 9.2, 'Cho', 3, 0], [0.2, 6.6, 'Bac', 3, 0], [-1.7, 5.9, 'Bac', 3, 0], [5.9, 7.2, 'Bac', 3, 0], [-1.8, 2.2, 'Amo', 3, 0], [0.1, 1.1, 'Bac', 3, 0]],
  [[-2.5, 0, 'Rhi', 3, 1], [3.5, 9.2, 'Cho', 3, 0], [-6.8, 7, 'Cho', 3, 0], [-5.3, 7.2, 'Cho', 3, 0], [2.8, 6.5, 'Bac', 3, 0],
   [0, 5.9, 'Bac', 3, 0], [-2.9, 2.2, 'Amo', 3, 0], [1.3, 1.4, 'Bac', 3, 0]],
  [[-6.8, 7, 'Cho', 3, 0], [-5.3, 7.2, 'Cho', 3, 0], [2.8, 6.5, 'Bac', 3, 0], [0.5, 5.9, 'Bac', 3, 0], [-1.1, 2.2, 'Amo', 3, 0], [4.5, 1.4, 'Bac', 3, 0]],
  [[2.3, 0, 'Rhi', 3, 1], [-3.7, 9.2, 'Cho', 3, 0], [0, 7.2, 'Gon', 3, 0], [0, 6.1, 'Gon', 3, 0], [-0.9, 2.2, 'Amo', 3, 0]]
];
const phnYPts = [
  [[-0.5, 0.1, 'Cho', 3, 0], [-5.7, 3, 'Bac', 3, 0], [-1.4, 3.1, 'Bac', 3, 0], [0.8, 4.2, 'Bac', 3, 0], [3, 4.4, 'Bac', 3, 0]],
  [[-3.2, 3, 'Bac', 3, 0], [-1.2, 4.2, 'Bac', 3, 0], [-0.5, 3.1, 'Bac', 3, 0], [0.1, 4.2, 'Bac', 3, 0], [2.8, 4.4, 'Bac', 3, 0], [-0.2, 0, 'Cho', 3, 0]],
  [[-0.8, 4.4, 'Bac', 3, 0], [0.3, 4.4, 'Bac', 3, 0], [1.8, 3, 'Bac', 3, 0], [3.6, 3, 'Bac', 3, 0], [0.1, 0, 'Cho', 3, 0]],
  [[1.9, 4.1, 'Bac', 3, 1], [-0.1, 4.3, 'Bac', 3, 0], [2, 2.8, 'Bac', 3, 0], [3.9, 2.8, 'Bac', 3, 0], [-2.5, 0, 'Cho', 3, 0]],
  [[0.2, 4.2, 'Bac', 3, 0], [1.7, 4.4, 'Bac', 3, 0], [3.6, 4.4, 'Bac', 3, 0], [2.7, 3, 'Bac', 3, 0], [4.3, 2.8, 'Bac', 3, 0], [-0.2, 0, 'Cho', 3, 0]],
  [[-0.3, 4.4, 'Bac', 3, 0], [3.5, 4.4, 'Bac', 3, 0], [1.4, 3, 'Bac', 3, 0], [3.2, 3, 'Bac', 3, 0], [-1.6, 3, 'Bac', 3, 0], [3.1, 0, 'Cho', 3, 0]]
];
const ppdPts = [
  [[-4.5, 6.2, 'Gon', 4, 1], [-2, 7.8, 'Gon', 3, 0], [-1, 4.8, 'Bac', 3, 0], [0.6, 3.5, 'Bac', 3, 0], [-0.5, 2.2, 'Bac', 3, 0], [-1.5, 0.5, 'Hac', 3, 0]],
  [[-1, 7.8, 'Gon', 3, 0], [-2.5, 6.5, 'Gon', 3, 0], [0.5, 4.2, 'Bac', 3, 0], [-0.8, 0.5, 'Hac', 3, 0]],
  [[-0.5, 7.5, 'Gon', 3, 0], [0.5, 5, 'Bac', 3, 0], [-1, 0.5, 'Hac', 3, 0]],
  [[-6, 6.2, 'Gon', 4, 1], [3, 4.2, 'Str', 4, 1], [-5, 1.2, 'Hac', 4, 1], [-1.5, 7.5, 'Gon', 3, 0], [-0.5, 6.8, 'Gon', 3, 0],
   [0.8, 4.5, 'Bac', 3, 0], [-1, 0.5, 'Hac', 3, 0]],
  [[-6, 6.2, 'Gon', 4, 1], [1.7, 4.2, 'Str', 4, 1], [-1.5, 7.5, 'Gon', 3, 0], [-0.5, 6.8, 'Gon', 3, 0], [0.5, 4.5, 'Bac', 3, 0], [-1, 0.5, 'Hac', 3, 0]],
  [[-1, 7.5, 'Gon', 3, 0], [0.3, 6.5, 'Gon', 3, 0], [0.5, 4.5, 'Bac', 3, 0], [-0.5, 0.5, 'Hac', 3, 0]]
];
const ept1Pts = [
  [[-2.5, 8.8, 'Tin', 3, 1], [2.9, 4, 'Bac', 4, 1], [-8, 0, 'Oth', 3, 1], [-1, 9.5, 'Cho', 3, 0], [-0.2, 8, 'Gon', 3, 0],
   [-3, 5, 'Bac', 3, 0], [-1.5, 4.5, 'Bac', 3, 0], [0.2, 3.5, 'Bac', 3, 0], [1.5, 2.5, 'Bac', 3, 0], [4, 4.5, 'Bac', 3, 0],
   [-0.6, 6, 'Bac', 3, 0], [-5, 0.5, 'Hac', 3, 0], [-1, 0.3, 'Hac', 3, 0], [1.5, 0.6, 'Hac', 3, 0]],
  [[-2.5, 8.8, 'Tin', 3, 1], [2.9, 4, 'Bac', 4, 1], [-1, 9.5, 'Cho', 3, 0], [-3, 5, 'Bac', 3, 0], [-1.5, 4.5, 'Bac', 3, 0],
   [0.2, 3.5, 'Bac', 3, 0], [1.5, 2.5, 'Bac', 3, 0], [4, 4.5, 'Bac', 3, 0], [-1, 0.3, 'Hac', 3, 0], [1.5, 0.6, 'Hac', 3, 0]],
  [[-0.5, 9.5, 'Cho', 3, 0], [-2, 5, 'Bac', 3, 0], [-0.5, 4, 'Bac', 3, 0], [1.5, 3, 'Bac', 3, 0], [3.5, 4.5, 'Bac', 3, 0], [-0.5, 0.5, 'Hac', 3, 0]],
  [[2.9, 4, 'Bac', 4, 1], [-1, 9.5, 'Cho', 3, 0], [-3, 5, 'Bac', 3, 0], [-1.5, 4.5, 'Bac', 3, 0], [0.2, 3.5, 'Bac', 3, 0],
   [1.5, 2.5, 'Bac', 3, 0], [4.5, 4.5, 'Bac', 3, 0], [-1, 0.3, 'Hac', 3, 0]],
  [[-2.7, 0.5, 'Amo', 4, 1], [-1, 9.5, 'Cho', 3, 0], [-3, 5, 'Bac', 3, 0], [-1.5, 4.5, 'Bac', 3, 0], [0.2, 3.5, 'Bac', 3, 0],
   [1.5, 2.5, 'Bac', 3, 0], [3.5, 4.5, 'Bac', 3, 0], [-1, 0.3, 'Hac', 3, 0]],
  [[-2.9, 8.8, 'Tin', 3, 1], [-0.5, 9.5, 'Cho', 3, 0], [-2, 5, 'Bac', 3, 0], [-0.5, 4, 'Bac', 3, 0], [1.5, 3, 'Bac', 3, 0],
   [3.5, 4.5, 'Bac', 3, 0], [-0.5, 0.5, 'Hac', 3, 0]]
];
const pcyt2Pts = [
  [[-7.6, 0.8, 'Amo', 4, 1], [-5, 0.8, 'Amo', 4, 1], [2.5, 4.2, 'Bac', 4, 1], [-0.5, 7, 'Bac', 3, 0], [0.5, 5, 'Bac', 3, 0], [-1, 3, 'Bac', 3, 0]],
  [[-7.6, 0.8, 'Amo', 4, 1], [-5.5, 0.8, 'Amo', 4, 1], [2.3, 4.2, 'Bac', 4, 1], [-0.5, 7, 'Bac', 3, 0], [0.5, 5, 'Bac', 3, 0], [-1, 3, 'Bac', 3, 0]],
  [[-0.5, 7, 'Bac', 3, 0], [0.5, 5, 'Bac', 3, 0], [-1, 3, 'Bac', 3, 0]],
  [[2.7, 2.2, 'Bac', 4, 1], [5.7, 2.6, 'Bac', 4, 1], [-0.5, 7, 'Bac', 3, 0], [0.5, 5, 'Bac', 3, 0], [-1, 3, 'Bac', 3, 0]],
  [[-2.5, 0.8, 'Amo', 4, 1], [2.5, 4.2, 'Bac', 4, 1], [-0.5, 7, 'Bac', 3, 0], [0.5, 5, 'Bac', 3, 0], [-1, 3, 'Bac', 3, 0]],
  [[5, 0.8, 'Amo', 4, 1], [-0.5, 7, 'Bac', 3, 0], [0.5, 5, 'Bac', 3, 0], [-1, 3, 'Bac', 3, 0]]
];
const ppAPts = [
  [[-9.5, 9.8, 'Tin', 4, 1], [-4, 9.8, 'Tin', 4, 1], [-2.5, 9.8, 'Tin', 4, 1], [-1.2, 9.8, 'Tin', 4, 1], [-6, 9.8, 'Cho', 3, 1],
   [-7.5, 8.2, 'Gon', 4, 1], [-6.2, 8, 'Gon', 4, 1], [-4.8, 8.2, 'Gon', 4, 1], [-3.5, 8.3, 'Gon', 4, 1], [-2.2, 8, 'Gon', 4, 1],
   [-9.3, 6.2, 'Gym', 4, 1], [-5, 7, 'Gym', 3, 1], [-3, 7.5, 'Sue', 3, 1], [-9.1, 2.6, 'Gla', 4, 1], [-6.9, 2.2, 'Chl', 4, 1],
   [-9.1, 0, 'Oth', 3, 1], [-6.9, 0, 'Oth', 3, 1], [-4.5, 0, 'Oth', 3, 1], [2.3, 3.2, 'Bac', 4, 1], [3.2, 2.8, 'Bac', 4, 1],
   [4, 3.4, 'Bac', 4, 1], [4.6, 2.7, 'Bac', 4, 1], [5.4, 3.2, 'Bac', 4, 1], [6.2, 2.9, 'Bac', 4, 1], [3.8, 2.2, 'Bac', 4, 1],
   [5, 2.1, 'Bac', 4, 1], [7, 2.9, 'Cha', 3, 1], [2.8, 2, 'Chl', 3, 1], [1.8, 3.9, 'Ske', 3, 1],
   [-5, 4, 'Bac', 3, 0], [-3.5, 2.8, 'Bac', 3, 0], [-1.9, 3.6, 'Bac', 3, 0], [-1, 2.5, 'Bac', 3, 0], [-0.4, 4.5, 'Bac', 3, 0],
   [0.8, 5, 'Bac', 3, 0], [-1.5, 5.5, 'Ske', 3, 0], [-0.6, 6, 'Ske', 3, 0], [0.3, 4, 'Ske', 3, 0], [-1.9, 1, 'Hac', 3, 0],
   [-0.9, 0.3, 'Hac', 3, 0], [0.4, 0.8, 'Hac', 3, 0], [0.8, 9, 'Cho', 3, 0], [2.5, 8.7, 'Cho', 3, 0], [-0.5, 7, 'Gon', 3, 0], [1, 0.5, 'Rhi', 3, 0]],
  [[-9.8, 9.8, 'Tin', 4, 1], [-8, 9.8, 'Tin', 3, 1], [-3.5, 9.8, 'Tin', 4, 1], [-2, 9.8, 'Tin', 4, 1], [-6.5, 8.3, 'Gon', 4, 1],
   [-5, 8, 'Gon', 4, 1], [-3.8, 8.2, 'Gon', 4, 1], [-8, 7.5, 'Gym', 3, 1], [-7, 8, 'Per', 3, 1], [-9.3, 2.6, 'Gla', 4, 1],
   [-9.3, 0, 'Oth', 3, 1], [-6.5, 0, 'Oth', 3, 1], [-3.8, 0, 'Oth', 3, 1], [2.5, 4.5, 'Ske', 4, 1], [1.5, 3.5, 'Ske', 3, 1],
   [1.8, 2.6, 'Bac', 4, 1], [2.8, 2.8, 'Bac', 4, 1], [3.8, 2.4, 'Bac', 4, 1], [4.6, 3, 'Bac', 4, 1], [3.2, 1.8, 'Bac', 4, 1],
   [2.2, 1.8, 'Cha', 3, 1], [4.2, 1.8, 'Chl', 3, 1],
   [5.8, 2.6, 'Bac', 3, 0], [6.7, 2.6, 'Bac', 3, 0], [-2.5, 5.5, 'Bac', 3, 0], [-1.2, 4.5, 'Bac', 3, 0], [0.5, 5.5, 'Bac', 3, 0],
   [-0.5, 3, 'Bac', 3, 0], [-1, 6.5, 'Ske', 3, 0], [0.2, 4, 'Ske', 3, 0], [1, 9, 'Cho', 3, 0], [-1, 0.5, 'Hac', 3, 0], [0.5, 0.5, 'Hac', 3, 0]],
  [[-7.4, 9.8, 'Tin', 4, 1], [-3.5, 9.8, 'Tin', 3, 1], [-2.6, 8.6, 'Gym', 4, 1], [-1.2, 9, 'Gon', 4, 1], [-2.7, 3, 'Pse', 4, 1],
   [0.8, 6.8, 'Bac', 4, 1], [1.8, 6.2, 'Bac', 4, 1],
   [-0.5, 9.5, 'Cho', 3, 0], [1.5, 9.5, 'Cho', 3, 0], [3, 9, 'Cho', 3, 0], [-1.8, 5.5, 'Ske', 3, 0], [-1, 4.8, 'Ske', 3, 0],
   [0.5, 4.5, 'Ske', 3, 0], [-0.3, 3.5, 'Ske', 3, 0], [1.2, 3.2, 'Ske', 3, 0], [-5.5, 4.8, 'Bac', 3, 0], [-3.5, 2, 'Bac', 3, 0],
   [3, 3.5, 'Bac', 3, 0], [5, 1.5, 'Bac', 3, 0], [-7.5, 3.5, 'Bac', 3, 0], [-1.5, 1, 'Hac', 3, 0], [-0.5, 0.3, 'Hac', 3, 0],
   [0.8, 0.5, 'Hac', 3, 0], [2, 0.8, 'Rhi', 3, 0]],
  [[-9, 9.8, 'Tin', 3, 1], [-7, 9.8, 'Tin', 4, 1], [-1.5, 9.8, 'Tin', 4, 1], [-7.5, 8.5, 'Gon', 4, 1], [-6.5, 8, 'Gon', 4, 1],
   [-5, 8.3, 'Gon', 4, 1], [-3, 8.2, 'Gon', 4, 1], [-8.5, 7.5, 'Sue', 3, 1], [-9.1, 2.6, 'Gla', 4, 1], [-6, 6, 'Str', 4, 1],
   [-4.5, 6.2, 'Str', 4, 1], [-3, 5.8, 'Str', 4, 1], [-1.8, 6, 'Str', 4, 1], [2, 6, 'Str', 4, 1], [3.5, 5.8, 'Str', 4, 1],
   [-5.5, 4.8, 'Ske', 4, 1], [-4, 4.5, 'Ske', 4, 1], [-2.5, 4.7, 'Ske', 4, 1], [1.5, 4.5, 'Ske', 4, 1], [-6, 3.8, 'Bac', 4, 1],
   [-4.8, 3.4, 'Bac', 4, 1], [-3.2, 3.5, 'Bac', 4, 1], [-1.8, 3.6, 'Bac', 4, 1], [2.5, 3.5, 'Bac', 4, 1], [4.2, 3.2, 'Bac', 4, 1],
   [5.5, 3.5, 'Bac', 4, 1], [-5.8, 2.2, 'Tha', 4, 1], [-4.2, 2.6, 'Tha', 3, 1], [-3.5, 1.5, 'Cha', 3, 1], [-2, 2, 'Cha', 3, 1],
   [6.5, 3, 'Cha', 3, 1], [-2.6, 1.2, 'Chl', 3, 1], [3, 2, 'Chl', 3, 1], [-7.5, 0.2, 'Oth', 3, 1], [-6.5, 0, 'Oth', 3, 1],
   [-5.5, 0.5, 'Rhi', 3, 1], [-2.8, 0.4, 'Hac', 3, 1],
   [1, 9.5, 'Cho', 3, 0], [3, 9, 'Cho', 3, 0], [0, 4, 'Bac', 3, 0], [1, 2, 'Bac', 3, 0], [0, 0.5, 'Hac', 3, 0]],
  [[-9.8, 9.8, 'Tin', 4, 1], [-2.5, 9.8, 'Tin', 4, 1], [2.5, 9.8, 'Tin', 3, 1], [-8, 8.3, 'Gon', 4, 1], [-6.5, 8.5, 'Gon', 4, 1],
   [-5, 8.2, 'Gon', 4, 1], [-2.8, 8.5, 'Gon', 4, 1], [-1.4, 8, 'Gon', 4, 1], [1.5, 8.5, 'Gon', 4, 1], [3, 8.2, 'Gon', 4, 1],
   [4.6, 8.4, 'Gon', 4, 1], [-4, 7.2, 'Sue', 3, 1], [5.5, 8.2, 'Sue', 3, 1], [-9.1, 2.6, 'Gla', 4, 1], [-6, 5.8, 'Str', 4, 1],
   [-4.6, 6.2, 'Str', 4, 1], [-3, 6, 'Str', 4, 1], [2.2, 6.2, 'Str', 4, 1], [3.6, 5.7, 'Str', 4, 1], [5, 6, 'Str', 4, 1],
   [-5.3, 4.3, 'Ske', 4, 1], [-3.2, 4.5, 'Ske', 4, 1], [1, 4.5, 'Ske', 4, 1], [2.5, 4.2, 'Ske', 4, 1], [-4.5, 3.3, 'Bac', 4, 1],
   [-3, 3, 'Bac', 4, 1], [-1.8, 3.5, 'Bac', 4, 1], [1.8, 3.2, 'Bac', 4, 1], [3.2, 3.3, 'Bac', 4, 1], [4.5, 2.8, 'Bac', 4, 1],
   [-2.5, 2, 'Cha', 4, 1], [-1.5, 1.5, 'Cha', 4, 1], [6, 3, 'Cha', 4, 1], [2.5, 1.8, 'Cha', 3, 1], [-5.6, 3, 'Tha', 4, 1],
   [5.5, 2.2, 'Chl', 3, 1], [-3.6, 1.2, 'Chl', 3, 1], [-5.1, 0.5, 'Rhi', 3, 1], [5.9, 0.5, 'Rhi', 3, 1], [-2.2, 0.5, 'Hac', 3, 1],
   [3.5, 0.8, 'Hac', 3, 1],
   [7.5, 2, 'Bac', 3, 0], [-0.5, 4, 'Bac', 3, 0], [0.3, 2.5, 'Bac', 3, 0], [-0.3, 0.3, 'Hac', 3, 0], [1, 0.6, 'Hac', 3, 0]],
  [[-6, 9.8, 'Tin', 3, 1], [-2.5, 9.8, 'Tin', 4, 1], [1, 9.8, 'Tin', 4, 1], [-1, 9.8, 'Din', 4, 1], [2.5, 8.8, 'Per', 3, 1],
   [-5.1, 8.5, 'Gon', 4, 1], [-3, 8.3, 'Gon', 3, 1], [2.7, 8.5, 'Gon', 4, 1], [4.4, 8.2, 'Gon', 4, 1], [-2, 8.6, 'Sue', 3, 1],
   [3.6, 7.8, 'Sue', 3, 1], [-6.3, 2.8, 'Cha', 4, 1], [-4.6, 2.6, 'Cha', 4, 1], [-4.6, 3.5, 'Bac', 4, 1], [-3.5, 3.2, 'Bac', 4, 1],
   [-2.5, 3.5, 'Bac', 4, 1], [-1.5, 3.3, 'Bac', 4, 1], [0.8, 3.7, 'Bac', 4, 1], [1.8, 3.2, 'Bac', 4, 1], [2.8, 3.6, 'Bac', 4, 1],
   [3.4, 2.6, 'Bac', 4, 1], [-1.5, 5.5, 'Str', 4, 1], [1, 5.8, 'Str', 4, 1], [2.3, 5.3, 'Str', 4, 1], [-3, 4.5, 'Ske', 4, 1],
   [1.7, 4.5, 'Ske', 4, 1], [-2.2, 2, 'Chl', 3, 1], [2.5, 1.8, 'Chl', 3, 1],
   [-8, 9.5, 'Cho', 3, 0], [6.3, 9.4, 'Cho', 3, 0], [-2, 0.5, 'Hac', 3, 0], [-0.8, 0.3, 'Hac', 3, 0], [0.6, 0.6, 'Hac', 3, 0],
   [2, 0.3, 'Hac', 3, 0], [2.9, 0.5, 'Rhi', 3, 0], [4.6, 0.5, 'Rhi', 3, 0], [-7, 4.5, 'Bac', 3, 0], [5, 4.5, 'Bac', 3, 0], [6, 3, 'Bac', 3, 0]]
];
const genePoints = [pho80Pts, pho81Pts, phoRPts, pho84Pts, nptAPts, pitPts, acp5Pts, pho3Pts, phoAPts, phoDPts,
  pepMPts, phnXPts, phnYPts, ppdPts, ept1Pts, pcyt2Pts, ppAPts];

// ---- layout ----
const wrap = document.getElementById('wrap');
const COL_X = [4, 113.6, 223.2, 332.8, 442.4, 552];
const PW = 104, PH = 46, TOP = 157, PITCH = 51.35;
const rowTop = r => Math.round(TOP + r * PITCH);

function el(cls, css, html) {
  const d = document.createElement('div');
  d.className = cls;
  Object.assign(d.style, css);
  if (html !== undefined) d.innerHTML = html;
  wrap.appendChild(d);
  return d;
}
const colorOf = k => taxonColors[taxonKeys.indexOf(k)];
function fade(hex, a) {
  const n = parseInt(hex.slice(1), 16);
  return `rgba(${n >> 16},${(n >> 8) & 255},${n & 255},${a})`;
}
const radius = cpm => 2.4 + cpm * 1.0;

// legend: logCPM sizes
el('leg', { left: '258px', top: '2px' }, 'logCPM');
[[312, 326], [345, 361], [382, 397]].forEach((p, i) => {
  const r = 3.6 + i * 0.6;
  el('dot', { left: (p[0] - r) + 'px', top: (9 - r) + 'px', width: 2 * r + 'px', height: 2 * r + 'px', background: '#fff' });
  el('leg', { left: p[1] + 'px', top: '2px' }, String(cpmLevels[i]));
});
// legend: taxa
const legX = [12, 123, 234, 336, 439, 551];
taxa.forEach((t, i) => {
  const cx = legX[i % 6], cy = 24 + Math.floor(i / 6) * 21.4;
  el('dot', { left: (cx - 6.3) + 'px', top: (cy - 6.3) + 'px', width: '12.6px', height: '12.6px', background: taxonColors[i] });
  el('leg', { left: (cx + 14) + 'px', top: (cy - 7.5) + 'px', fontStyle: italicTaxa.includes(t) ? 'italic' : 'normal' }, t);
});

// strips
timepoints.forEach((tp, i) => {
  el('strip', { left: COL_X[i * 3] + 'px', top: '107px', width: (COL_X[i * 3 + 2] + PW - COL_X[i * 3]) + 'px', height: '25px' }, tp);
  contrasts.forEach((c, j) => {
    el('strip', { left: COL_X[i * 3 + j] + 'px', top: '131px', width: PW + 'px', height: '26px' }, c);
  });
});

// gene labels and group boxes
genes.forEach((g, r) => {
  el('gene', { left: '657px', top: rowTop(r) + 'px', width: '51px', height: PH + 'px' }, g);
  el('abs', { left: '1px', top: rowTop(r) + 'px', width: '3px', height: PH + 'px', background: '#333' });
});
let gr = 0;
groupLabels.forEach((lab, i) => {
  const top = rowTop(gr), bottom = rowTop(gr + groupSizes[i] - 1) + PH;
  el('group', { left: '707px', top: top + 'px', width: '92px', height: (bottom - top) + 'px' }, lab);
  gr += groupSizes[i];
});
el('abs', { left: '280px', top: '1053px', width: '100px', textAlign: 'center', fontWeight: 'bold', fontSize: '12.5px' }, '(logFC)');

// ---- panels ----
const panelDecor = {
  id: 'panelDecor',
  beforeDatasetsDraw(chart) {
    const { ctx, chartArea: a, scales: { x } } = chart;
    const x0 = x.getPixelForValue(0);
    ctx.save();
    ctx.fillStyle = '#c4c4c4';
    ctx.fillRect(a.left, a.top, x0 - a.left, a.height);
    ctx.fillStyle = '#e1e1e1';
    ctx.fillRect(x0, a.top, a.right - x0, a.height);
    ctx.restore();
  },
  beforeDatasetDraw(chart, args) {
    if (args.index !== 0) return;
    const { ctx, chartArea: a, scales: { x } } = chart;
    const x0 = Math.round(x.getPixelForValue(0)) + 0.5;
    ctx.save();
    ctx.strokeStyle = '#111';
    ctx.lineWidth = 1.6;
    ctx.beginPath();
    ctx.moveTo(x0, a.top);
    ctx.lineTo(x0, a.bottom);
    ctx.stroke();
    ctx.restore();
  },
  afterDraw(chart, args, opts) {
    const { ctx, chartArea: a, scales: { x } } = chart;
    ctx.save();
    ctx.strokeStyle = '#8a8a8a';
    ctx.lineWidth = 1.2;
    ctx.strokeRect(a.left + 0.6, a.top + 0.6, a.width - 1.2, a.height - 1.2);
    if (opts.ticks) {
      ctx.strokeStyle = '#333';
      ctx.lineWidth = 1;
      ctx.fillStyle = '#4d4d4d';
      ctx.font = 'bold 13px "Liberation Sans", Arial, sans-serif';
      ctx.textAlign = 'left';
      ctx.textBaseline = 'middle';
      xTicks.forEach(v => {
        const px = Math.round(x.getPixelForValue(v)) + 0.5;
        ctx.beginPath();
        ctx.moveTo(px, a.bottom);
        ctx.lineTo(px, a.bottom + 3);
        ctx.stroke();
        ctx.save();
        ctx.translate(px, a.bottom + 4);
        ctx.rotate(Math.PI / 2);
        ctx.fillText(String(v), 0, 0);
        ctx.restore();
      });
    }
    ctx.restore();
  }
};

function dataset(pts, sig) {
  return {
    data: pts.map(p => ({ x: p[0], y: p[1] })),
    pointRadius: pts.map(p => radius(p[3])),
    pointHoverRadius: pts.map(p => radius(p[3])),
    backgroundColor: pts.map(p => sig ? colorOf(p[2]) : fade(colorOf(p[2]), 0.26)),
    borderColor: pts.map(p => sig ? '#000' : fade(colorOf(p[2]), 0.5)),
    borderWidth: 1,
    clip: 0
  };
}

genePoints.forEach((rowPts, r) => {
  const bottomRow = r === genes.length - 1;
  rowPts.forEach((pts, c) => {
    const cv = document.createElement('canvas');
    cv.width = PW;
    cv.height = bottomRow ? PH + 30 : PH;
    cv.style.left = COL_X[c] + 'px';
    cv.style.top = rowTop(r) + 'px';
    wrap.appendChild(cv);
    new Chart(cv, {
      type: 'scatter',
      data: { datasets: [dataset(pts.filter(p => p[4]), true), dataset(pts.filter(p => !p[4]), false)] },
      options: {
        responsive: false,
        animation: false,
        events: [],
        layout: { autoPadding: false, padding: { top: 0, left: 0, right: 0, bottom: bottomRow ? 30 : 0 } },
        scales: {
          x: { type: 'linear', min: -10.95, max: 10.95, display: false },
          y: { type: 'linear', min: 0, max: 10, display: false }
        },
        plugins: { legend: { display: false }, tooltip: { enabled: false }, panelDecor: { ticks: bottomRow } }
      },
      plugins: [panelDecor]
    });
  });
});
</script>
</body>
</html>
